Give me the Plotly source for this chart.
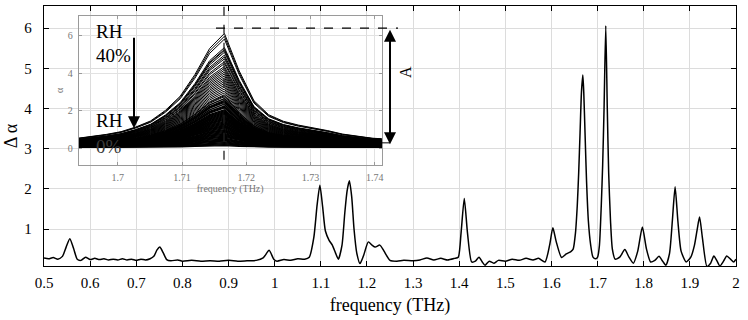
import plotly.graph_objects as go

# ---------------- main spectrum ----------------
main_freq = [0.500, 0.510, 0.520, 0.530, 0.540, 0.548, 0.556, 0.564, 0.572, 0.580,
             0.590, 0.600, 0.610, 0.620, 0.630, 0.640, 0.650, 0.660, 0.670, 0.680,
             0.690, 0.700, 0.710, 0.720, 0.730, 0.738, 0.745, 0.751, 0.758, 0.766,
             0.775, 0.790, 0.800, 0.820, 0.840, 0.860, 0.880, 0.900, 0.920, 0.940,
             0.960, 0.975, 0.988, 0.998, 1.005, 1.020, 1.035, 1.050, 1.065, 1.075,
             1.085, 1.092, 1.098, 1.104, 1.110, 1.118, 1.125, 1.132, 1.138, 1.146,
             1.152, 1.157, 1.162, 1.167, 1.172, 1.178, 1.185, 1.193, 1.203, 1.211,
             1.218, 1.228, 1.237, 1.250, 1.265, 1.280, 1.300, 1.315, 1.330, 1.345,
             1.360, 1.375, 1.390, 1.398, 1.404, 1.411, 1.418, 1.427, 1.435, 1.443,
             1.450, 1.456, 1.465, 1.475, 1.485, 1.500, 1.515, 1.530, 1.545, 1.560,
             1.572, 1.586, 1.596, 1.603, 1.610, 1.622, 1.632, 1.642, 1.647, 1.652,
             1.656, 1.659, 1.662, 1.665, 1.668, 1.670, 1.673, 1.676, 1.680, 1.685,
             1.690, 1.696, 1.700, 1.704, 1.708, 1.711, 1.714, 1.7177, 1.721, 1.724,
             1.728, 1.732, 1.738, 1.748, 1.759, 1.768, 1.7775, 1.787, 1.797, 1.806,
             1.815, 1.824, 1.833, 1.841, 1.848, 1.856, 1.862, 1.868, 1.874, 1.881,
             1.892, 1.902, 1.910, 1.916, 1.921, 1.927, 1.937, 1.945, 1.952, 1.959,
             1.965, 1.973, 1.980, 1.988, 1.995, 2.000]
main_val = [0.28, 0.26, 0.29, 0.25, 0.32, 0.55, 0.76, 0.52, 0.25, 0.22,
            0.30, 0.24, 0.27, 0.24, 0.26, 0.23, 0.25, 0.23, 0.26, 0.23,
            0.25, 0.22, 0.25, 0.23, 0.26, 0.32, 0.48, 0.55, 0.42, 0.24,
            0.21, 0.23, 0.20, 0.22, 0.20, 0.21, 0.20, 0.22, 0.20, 0.21,
            0.22, 0.28, 0.47, 0.25, 0.20, 0.24, 0.22, 0.26, 0.25, 0.30,
            0.80, 1.60, 2.09, 1.55, 0.95, 0.72, 0.60, 0.40, 0.25, 0.60,
            1.40, 1.95, 2.20, 1.80, 1.00, 0.40, 0.14, 0.35, 0.68, 0.60,
            0.55, 0.60, 0.45, 0.22, 0.20, 0.22, 0.21, 0.23, 0.28, 0.23,
            0.27, 0.23, 0.27, 0.30, 0.90, 1.76, 0.90, 0.18, 0.20, 0.30,
            0.18, 0.10, 0.20, 0.15, 0.22, 0.20, 0.25, 0.22, 0.27, 0.23,
            0.27, 0.18, 0.60, 1.03, 0.70, 0.29, 0.38, 0.44, 0.50, 0.90,
            1.60, 2.40, 3.40, 4.40, 4.83, 4.40, 3.30, 2.20, 1.20, 0.60,
            0.30, 0.26, 0.30, 0.60, 1.60, 2.60, 4.00, 6.06, 4.00, 2.40,
            1.20, 0.50, 0.25, 0.30, 0.49, 0.30, 0.15, 0.45, 1.05, 0.50,
            0.18, 0.22, 0.32, 0.20, 0.10, 0.40, 1.20, 2.05, 1.20, 0.45,
            0.18, 0.30, 0.60, 1.00, 1.30, 0.80, 0.07, 0.15, 0.33, 0.20,
            0.08, 0.20, 0.33, 0.25, 0.18, 0.25]

x_ticks = [0.5, 0.6, 0.7, 0.8, 0.9, 1.0, 1.1, 1.2, 1.3, 1.4, 1.5, 1.6, 1.7, 1.8, 1.9, 2.0]
x_ticklabels = ["0.5", "0.6", "0.7", "0.8", "0.9", "1", "1.1", "1.2", "1.3", "1.4",
                "1.5", "1.6", "1.7", "1.8", "1.9", "2"]
y_ticks = [1, 2, 3, 4, 5, 6]

# ---------------- inset: family of absorption curves ----------------
inset_freq = [1.6936, 1.6959, 1.6982, 1.7005, 1.7028, 1.7051, 1.7074, 1.7097, 1.7120, 1.7143,
              1.7166, 1.7189, 1.7212, 1.7235, 1.7258, 1.7281, 1.7304, 1.7327, 1.7350, 1.7373,
              1.7396, 1.7419]
inset_shape = [0.080, 0.095, 0.115, 0.139, 0.180, 0.233, 0.325, 0.449, 0.639, 0.869,
               1.000, 0.672, 0.410, 0.287, 0.230, 0.197, 0.174, 0.148, 0.118, 0.098,
               0.082, 0.074]
inset_peaks = [6.05, 5.9, 5.75, 5.3, 5.2, 5.15, 5.05, 4.9, 4.8, 4.7, 4.55, 4.45, 4.3, 4.2,
               4.1, 4.0, 3.9, 3.8, 3.7, 3.6, 3.5, 3.4, 3.3, 3.2, 3.1, 3.0, 2.9, 2.8, 2.75,
               2.7, 2.6, 2.5, 2.45, 2.4, 2.3, 2.2, 2.15, 2.1, 2.0, 1.95, 1.9, 1.85, 1.8,
               1.75, 1.7, 1.65, 1.6, 1.55, 1.5, 1.45, 1.4, 1.35, 1.3, 1.25, 1.2, 1.15,
               1.1, 1.05, 1.0, 0.95, 0.9, 0.85, 0.8, 0.75, 0.7, 0.65, 0.6, 0.55, 0.5,
               0.45, 0.4, 0.35, 0.3, 0.25, 0.2, 0.15, 0.1]
inset_offset = 0.05
inset_xticks = [1.70, 1.71, 1.72, 1.73, 1.74]
inset_xticklabels = ["1.7", "1.71", "1.72", "1.73", "1.74"]
inset_yticks = [0, 2, 4, 6]

SERIF = "Liberation Serif, Times New Roman, serif"
W, H = 748, 320
L, R, T, B = 44, 12, 6, 54.3


def px(xp):
    return (xp - L) / (W - L - R)


def py(yp):
    return (H - B - yp) / (H - T - B)


fig = go.Figure()
fig.add_trace(go.Scatter(x=main_freq, y=main_val, mode="lines",
                         line=dict(color="black", width=1.5, shape="spline", smoothing=0.6),
                         xaxis="x", yaxis="y", showlegend=False, hoverinfo="skip"))

for a in inset_peaks:
    fig.add_trace(go.Scatter(x=inset_freq, y=[inset_offset + a * s for s in inset_shape],
                             mode="lines",
                             line=dict(color="black", width=1.0 if a > 2.6 else 1.4),
                             xaxis="x2", yaxis="y2", showlegend=False, hoverinfo="skip"))

grid = "#dcdcdc"
fig.update_layout(
    width=W, height=H, autosize=False,
    margin=dict(l=L, r=R, t=T, b=B),
    paper_bgcolor="white", plot_bgcolor="rgba(0,0,0,0)",
    font=dict(family=SERIF, color="black"),
    xaxis=dict(domain=[0, 1], range=[0.5, 2.0], tickvals=x_ticks, ticktext=x_ticklabels,
               showgrid=True, gridcolor=grid, gridwidth=1, zeroline=False,
               showline=True, linecolor="black", linewidth=1.3, mirror="ticks",
               ticks="inside", ticklen=5, tickcolor="black", tickwidth=1.3,
               tickfont=dict(size=15, family=SERIF), ticklabelstandoff=3,
               ticklabeloverflow="allow",
               title=dict(text="frequency (THz)", font=dict(size=18, family=SERIF), standoff=8)),
    yaxis=dict(domain=[0, 1], range=[0.08, 6.55], tickvals=y_ticks,
               showgrid=True, gridcolor=grid, gridwidth=1, zeroline=False,
               showline=True, linecolor="black", linewidth=1.3, mirror="ticks",
               ticks="inside", ticklen=5, tickcolor="black", tickwidth=1.3,
               tickfont=dict(size=15, family=SERIF), ticklabelstandoff=8,
               title=dict(text="Δ α", font=dict(size=18, family=SERIF), standoff=2)),
    xaxis2=dict(domain=[px(78.7), px(381.7)], anchor="y2", range=[1.6939, 1.7411],
                tickvals=inset_xticks, ticktext=inset_xticklabels,
                showgrid=True, gridcolor="#e2e2e2", zeroline=False,
                showline=True, linecolor="#9a9a9a", linewidth=1, mirror="ticks",
                ticks="inside", ticklen=3, tickcolor="#9a9a9a",
                tickfont=dict(size=10, color="#777", family=SERIF), ticklabelstandoff=3,
                title=dict(text="frequency (THz)", font=dict(size=10, color="#777", family=SERIF),
                           standoff=3)),
    yaxis2=dict(domain=[py(164.7), py(15.7)], anchor="x2", range=[-0.87, 7.04],
                tickvals=inset_yticks,
                showgrid=True, gridcolor="#e2e2e2", zeroline=False,
                showline=True, linecolor="#9a9a9a", linewidth=1, mirror="ticks",
                ticks="inside", ticklen=3, tickcolor="#9a9a9a",
                tickfont=dict(size=10, color="#777", family=SERIF), ticklabelstandoff=3,
                title=dict(text="α", font=dict(size=10, color="#777", family=SERIF), standoff=2)),
)

# dashed marker lines (paper coordinates)
fig.add_shape(type="line", xref="paper", yref="paper", x0=px(224), x1=px(224), y0=py(6.7), y1=py(163),
              line=dict(color="#222", width=1.3, dash="dash"))
fig.add_shape(type="line", xref="paper", yref="paper", x0=px(216), x1=px(398), y0=py(28), y1=py(28),
              line=dict(color="black", width=1.3, dash="dash"))
fig.add_shape(type="line", xref="paper", yref="paper", x0=px(381.7), x1=px(390), y0=py(142.7), y1=py(142.7),
              line=dict(color="black", width=1))

# double arrow "A"
fig.add_annotation(xref="paper", yref="paper", x=px(390), y=py(144), ax=0, ay=-116,
                   axref="pixel", ayref="pixel", text="", showarrow=True,
                   arrowhead=2, startarrowhead=2, arrowside="end+start",
                   arrowsize=1.2, startarrowsize=1.2, arrowwidth=2, arrowcolor="black")
fig.add_annotation(xref="paper", yref="paper", x=px(405), y=py(64), text="A", showarrow=False,
                   textangle=-90, font=dict(size=16, family=SERIF, color="black"))

# RH arrow
fig.add_annotation(xref="paper", yref="paper", x=px(134), y=py(128), ax=0, ay=-92,
                   axref="pixel", ayref="pixel", text="", showarrow=True,
                   arrowhead=2, arrowsize=1.2, arrowwidth=2, arrowcolor="black")
for txt, yy in [("RH", 31), ("40%", 55), ("RH", 120)]:
    fig.add_annotation(xref="paper", yref="paper", x=px(94), y=py(yy), text=txt,
                       showarrow=False, xanchor="left", yanchor="middle",
                       font=dict(size=19, family=SERIF, color="black"))
fig.add_annotation(xref="paper", yref="paper", x=px(94), y=py(146), text="0%",
                   showarrow=False, xanchor="left", yanchor="middle",
                   font=dict(size=19, family=SERIF, color="#3c3c3c"))

fig.write_html("out.html", config={"displayModeBar": False},
               post_script="document.body.style.margin='0';")
